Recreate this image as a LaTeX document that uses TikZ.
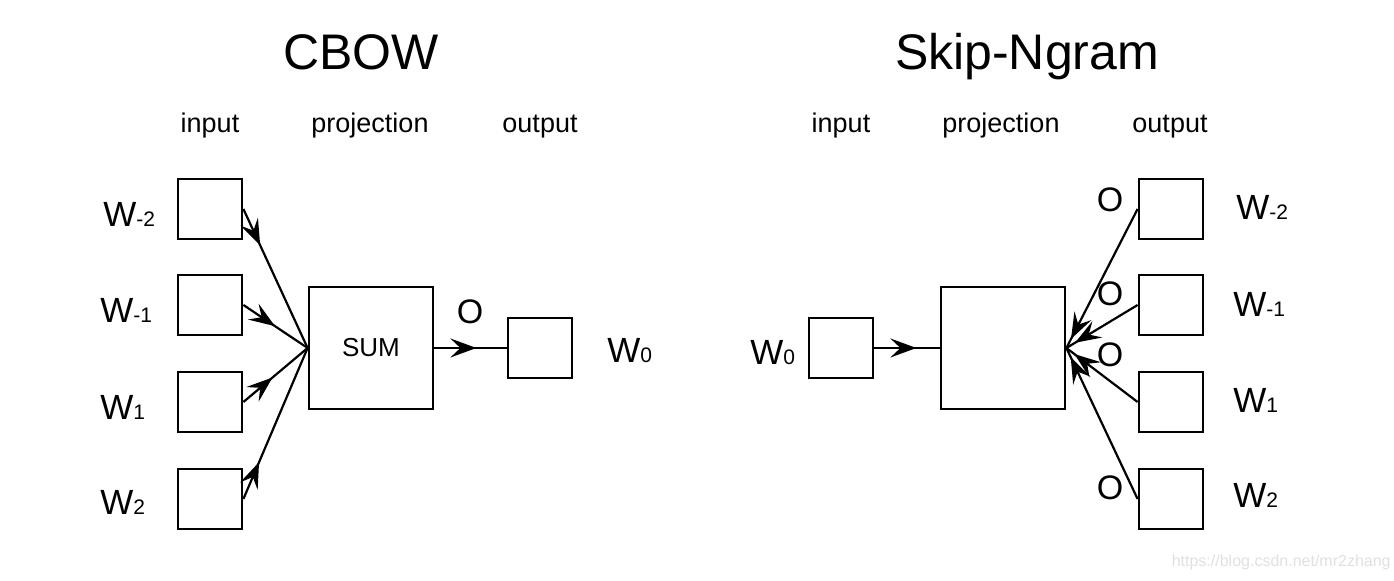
\documentclass[tikz,border=0pt]{standalone}
\usepackage{fontspec}
\setmainfont{Liberation Sans}
\usetikzlibrary{arrows.meta,decorations.markings}

\newcommand{\wlabel}[1]{{\fontsize{17.5}{20}\selectfont W}{\fontsize{10.5}{12}\selectfont #1}}

\tikzset{
  wbox/.style={draw, line width=1.4pt, minimum width=32pt, minimum height=30pt, inner sep=0pt},
  bigbox/.style={draw, line width=1.4pt, minimum width=62pt, minimum height=61pt, inner sep=0pt},
  wtext/.style={inner sep=0pt, anchor=base west},
  otext/.style={inner sep=0pt, font=\fontsize{17}{20}\selectfont},
  header/.style={inner sep=0pt, anchor=base, font=\fontsize{13.5}{16}\selectfont},
  title/.style={inner sep=0pt, anchor=base, font=\fontsize{25}{30}\selectfont},
  link/.style={line width=1.1pt},
  headtip/.style={decoration={markings, mark=at position #1 with {\arrow{Stealth[length=13pt,width=9.5pt,inset=5pt]}}}, postaction={decorate}},
}

\begin{document}
\begin{tikzpicture}[x=0.5pt, y=-0.5pt]
\useasboundingbox (0,0) rectangle (1394,581);

% CBOW
\node[title] (ctitle) at (361,70) {CBOW};
\node[header] (chin) at (210,133) {input};
\node[header] (chproj) at (370,133) {projection};
\node[header] (chout) at (540,133) {output};

\node[wbox] (cin1) at (210,209) {};
\node[wbox] (cin2) at (210,305) {};
\node[wbox] (cin3) at (210,402) {};
\node[wbox] (cin4) at (210,499) {};
\node[bigbox, font=\fontsize{13}{15}\selectfont] (csum) at (371,348) {SUM};
\node[wbox] (cout) at (540,348) {};

\node[wtext] (cw1) at (103,227) {\wlabel{-2}};
\node[wtext] (cw2) at (100,323) {\wlabel{-1}};
\node[wtext] (cw3) at (100,420) {\wlabel{1}};
\node[wtext] (cw4) at (100,515) {\wlabel{2}};
\node[wtext] (cw0) at (607,363) {\wlabel{0}};
\node[otext] (co) at (470,312) {O};

\draw[link, headtip=20pt] (cin1.east) -- (csum.west);
\draw[link, headtip=19pt] (cin2.east) -- (csum.west);
\draw[link, headtip=19pt] (cin3.east) -- (csum.west);
\draw[link, headtip=20pt] (cin4.east) -- (csum.west);
\draw[link, headtip=21pt] (csum.east) -- (cout.west);

% Skip-Ngram
\node[title] (stitle) at (1027,70) {Skip-Ngram};
\node[header] (shin) at (841,133) {input};
\node[header] (shproj) at (1001,133) {projection};
\node[header] (shout) at (1170,133) {output};

\node[wbox] (sin) at (841,348) {};
\node[bigbox] (sproj) at (1003,348) {};
\node[wbox] (sout1) at (1171,209) {};
\node[wbox] (sout2) at (1171,305) {};
\node[wbox] (sout3) at (1171,402) {};
\node[wbox] (sout4) at (1171,499) {};

\node[wtext] (sw0) at (750,365) {\wlabel{0}};
\node[wtext] (sw1) at (1236,220) {\wlabel{-2}};
\node[wtext] (sw2) at (1233,317) {\wlabel{-1}};
\node[wtext] (sw3) at (1233,413) {\wlabel{1}};
\node[wtext] (sw4) at (1233,508) {\wlabel{2}};
\node[otext] (so1) at (1110,200) {O};
\node[otext] (so2) at (1110,294) {O};
\node[otext] (so3) at (1110,355) {O};
\node[otext] (so4) at (1110,488) {O};

\draw[link, headtip=21pt] (sin.east) -- (sproj.west);
\draw[link, headtip=-5pt] (sout1.west) -- (sproj.east);
\draw[link, headtip=-5pt] (sout2.west) -- (sproj.east);
\draw[link, headtip=-5pt] (sout3.west) -- (sproj.east);
\draw[link, headtip=-5pt] (sout4.west) -- (sproj.east);

\node[inner sep=0pt, anchor=base east, text=black!12, font=\fontsize{8}{10}\selectfont] (mark) at (1391,567) {https://blog.csdn.net/mr2zhang};
\end{tikzpicture}
\end{document}
